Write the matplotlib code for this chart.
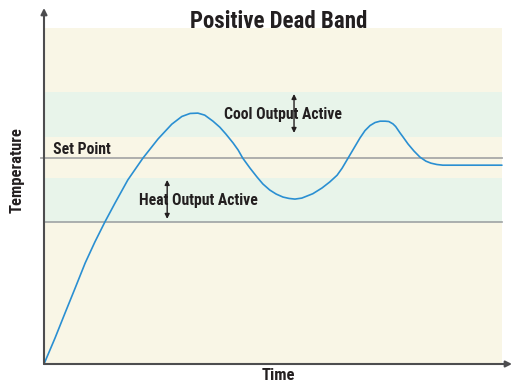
import matplotlib
matplotlib.use('Agg')
import matplotlib.pyplot as plt

plt.rcParams['font.family'] = ['Roboto Condensed', 'Asap Condensed', 'DejaVu Sans']
plt.rcParams['font.weight'] = 'bold'

# Colours
CREAM = '#F9F6E6'
GREEN = '#E8F4EA'
CURVE_BLUE = '#2A8FD2'
LINE_GRAY = '#A9A9A9'
AXIS_GRAY = '#4D4D4F'
TEXT_DARK = '#231F20'

# Process response (time, temperature)
time = [0.0, 2.4, 4.6, 6.8, 9.0, 11.1, 13.3, 15.5, 18.3, 21.6, 24.9, 27.9,
        30.1, 31.9, 33.6, 35.1, 36.9, 38.4, 39.7, 41.3, 42.4, 43.4, 45.0,
        46.5, 47.8, 49.3, 50.7, 52.2, 53.5, 54.8, 56.3, 58.7, 60.7, 62.4,
        64.0, 65.1, 66.4, 67.7, 69.0, 70.1, 71.2, 72.3, 73.4, 74.5, 75.3,
        76.2, 76.8, 77.7, 78.4, 79.5, 80.8, 82.1, 83.4, 84.5, 85.8, 87.1,
        100.0]
temp = [0.0, 7.7, 15.2, 22.6, 30.1, 36.3, 42.3, 47.9, 54.8, 61.3, 67.0, 71.4,
        73.7, 74.6, 74.7, 74.1, 72.3, 70.5, 68.5, 65.8, 63.7, 61.3, 58.3,
        55.7, 53.6, 51.8, 50.6, 49.7, 49.3, 49.1, 49.4, 50.7, 52.4, 54.2,
        56.2, 58.3, 61.3, 64.3, 67.3, 69.5, 71.0, 71.9, 72.3, 72.3, 72.2,
        71.5, 70.7, 68.9, 67.6, 65.5, 63.4, 61.6, 60.4, 59.8, 59.4, 59.2,
        59.2]

# Control levels
set_point = 61.3
heat_band = (42.4, 55.4)    # heat output active zone
cool_band = (67.6, 81.0)    # cool output active zone
band_span = [0, 100]
band_top = 100

fig = plt.figure(figsize=(5.15, 3.83), dpi=100)
ax = fig.add_axes([44 / 515, 19 / 383, 468 / 515, 356 / 383])
ax.set_xlim(0, 102.2)
ax.set_ylim(0, 106.0)
ax.axis('off')

# background zones
ax.fill_between(band_span, 0, band_top, color=CREAM, lw=0, zorder=0)
ax.fill_between(band_span, *heat_band, color=GREEN, lw=0, zorder=1)
ax.fill_between(band_span, *cool_band, color=GREEN, lw=0, zorder=1)

# set point and heat threshold lines
ax.plot([-0.7, band_span[1]], [set_point, set_point], color=LINE_GRAY, lw=1.3,
        clip_on=False, zorder=2)
ax.plot(band_span, [heat_band[0], heat_band[0]], color='#9EA3A4', lw=1.2, zorder=2)

# response curve
ax.plot(time, temp, color=CURVE_BLUE, lw=1.2, zorder=3,
        solid_joinstyle='round', solid_capstyle='round')

# axes with arrows
arrow_kw = dict(arrowstyle='-|>', color=AXIS_GRAY, lw=1.5, mutation_scale=9,
                shrinkA=0, shrinkB=0)
ax.annotate('', xy=(1, 0), xytext=(0, 0), xycoords='axes fraction',
            arrowprops=arrow_kw, zorder=5)
ax.annotate('', xy=(0, 1), xytext=(0, 0), xycoords='axes fraction',
            arrowprops=arrow_kw, zorder=5)

# double-headed arrows marking output zones
dbl_kw = dict(arrowstyle='<|-|>', color=TEXT_DARK, lw=1.0, mutation_scale=7,
              shrinkA=0, shrinkB=0)
ax.annotate('', xy=(26.9, 54.8), xytext=(26.9, 43.2), arrowprops=dbl_kw, zorder=6)
ax.annotate('', xy=(54.6, 80.4), xytext=(54.6, 68.8), arrowprops=dbl_kw, zorder=6)

txt = dict(color=TEXT_DARK, fontsize=11.3, fontweight='bold', zorder=5)
ax.text(2.0, 62.4, 'Set Point', ha='left', va='baseline', **txt)
ax.text(33.8, 48.8, 'Heat Output Active', ha='center', va='center', **txt)
ax.text(52.1, 74.4, 'Cool Output Active', ha='center', va='center', **txt)

fig.text(278.5 / 515, 355 / 383, 'Positive Dead Band', ha='center', va='baseline',
         fontsize=16.5, fontweight='bold', color=TEXT_DARK)
fig.text(17 / 515, 213 / 383, 'Temperature', rotation=90, ha='center', va='center',
         fontsize=12, fontweight='bold', color=TEXT_DARK)
fig.text(278 / 515, 3 / 383, 'Time', ha='center', va='baseline',
         fontsize=12, fontweight='bold', color=TEXT_DARK)

fig.savefig('out.png', dpi=100, facecolor='white')
